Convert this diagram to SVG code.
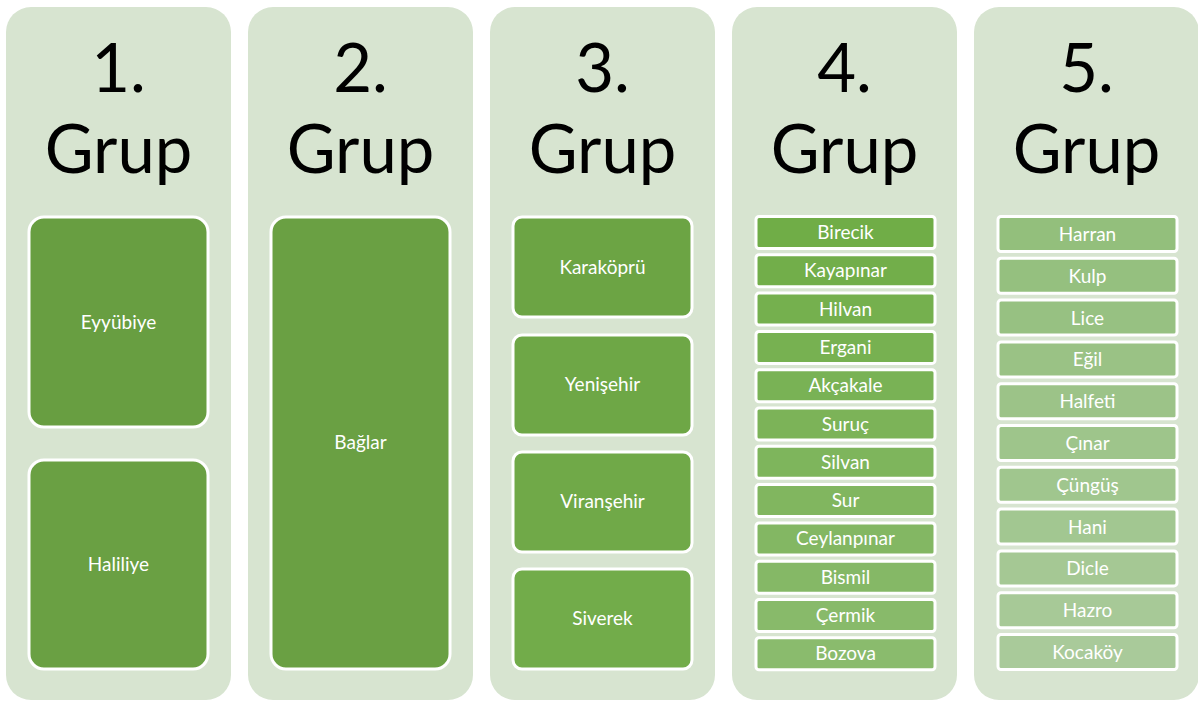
<svg xmlns="http://www.w3.org/2000/svg" width="1198" height="702" viewBox="0 0 1198 702">
<style>
.panel{fill:#D7E4D0}
.title{font-family:Lato,"Liberation Sans",sans-serif;font-size:67px;fill:#000;text-anchor:middle}
.node{stroke:#fff;stroke-width:3}
.lbl{font-family:Lato,"Liberation Sans",sans-serif;font-size:19px;fill:#fff;text-anchor:middle}
</style>
<rect x="0" y="0" width="1198" height="702" fill="#fff"/>
<g id="panel1">
<rect class="panel" x="6" y="7" width="225" height="693" rx="25"/>
<text class="title" x="118.5" y="92">1.</text>
<text class="title" x="118.5" y="173">Grup</text>
</g>
<g id="panel2">
<rect class="panel" x="248" y="7" width="225" height="693" rx="25"/>
<text class="title" x="360.5" y="92">2.</text>
<text class="title" x="360.5" y="173">Grup</text>
</g>
<g id="panel3">
<rect class="panel" x="490" y="7" width="225" height="693" rx="25"/>
<text class="title" x="602.5" y="92">3.</text>
<text class="title" x="602.5" y="173">Grup</text>
</g>
<g id="panel4">
<rect class="panel" x="732" y="7" width="225" height="693" rx="25"/>
<text class="title" x="844.5" y="92">4.</text>
<text class="title" x="844.5" y="173">Grup</text>
</g>
<g id="panel5">
<rect class="panel" x="974" y="7" width="225" height="693" rx="25"/>
<text class="title" x="1086.5" y="92">5.</text>
<text class="title" x="1086.5" y="173">Grup</text>
</g>
<g id="connectors"></g>
<g id="n-eyyubiye"><rect class="node" x="29" y="217" width="179" height="210" rx="15" fill="#689E41"/><text class="lbl" x="118.5" y="329">Eyyübiye</text></g>
<g id="n-haliliye"><rect class="node" x="29" y="460" width="179" height="209" rx="15" fill="#6AA043"/><text class="lbl" x="118.5" y="571">Haliliye</text></g>
<g id="n-baglar"><rect class="node" x="271" y="217" width="179" height="452" rx="15" fill="#6AA043"/><text class="lbl" x="360.5" y="449">Bağlar</text></g>
<g id="n-karakopru"><rect class="node" x="513" y="217" width="179" height="100" rx="9" fill="#6CA444"/><text class="lbl" x="602.5" y="274">Karaköprü</text></g>
<g id="n-yenisehir"><rect class="node" x="513" y="335" width="179" height="100" rx="9" fill="#6EA746"/><text class="lbl" x="602.5" y="391">Yenişehir</text></g>
<g id="n-viransehir"><rect class="node" x="513" y="452" width="179" height="100" rx="9" fill="#70A948"/><text class="lbl" x="602.5" y="508">Viranşehir</text></g>
<g id="n-siverek"><rect class="node" x="513" y="569" width="179" height="100" rx="9" fill="#72AC4A"/><text class="lbl" x="602.5" y="625">Siverek</text></g>
<g id="n-birecik"><rect class="node" x="756" y="216.5" width="179" height="32" rx="3" fill="#70AD47"/><text class="lbl" x="845.5" y="239">Birecik</text></g>
<g id="n-kayapinar"><rect class="node" x="756" y="254.8" width="179" height="32" rx="3" fill="#72AE4A"/><text class="lbl" x="845.5" y="277.3">Kayapınar</text></g>
<g id="n-hilvan"><rect class="node" x="756" y="293.1" width="179" height="32" rx="3" fill="#75B04E"/><text class="lbl" x="845.5" y="315.6">Hilvan</text></g>
<g id="n-ergani"><rect class="node" x="756" y="331.4" width="179" height="32" rx="3" fill="#77B151"/><text class="lbl" x="845.5" y="353.9">Ergani</text></g>
<g id="n-akcakale"><rect class="node" x="756" y="369.7" width="179" height="32" rx="3" fill="#79B255"/><text class="lbl" x="845.5" y="392.2">Akçakale</text></g>
<g id="n-suruc"><rect class="node" x="756" y="408" width="179" height="32" rx="3" fill="#7CB358"/><text class="lbl" x="845.5" y="430.5">Suruç</text></g>
<g id="n-silvan"><rect class="node" x="756" y="446.3" width="179" height="32" rx="3" fill="#7EB55C"/><text class="lbl" x="845.5" y="468.8">Silvan</text></g>
<g id="n-sur"><rect class="node" x="756" y="484.6" width="179" height="32" rx="3" fill="#81B65F"/><text class="lbl" x="845.5" y="507.1">Sur</text></g>
<g id="n-ceylanpinar"><rect class="node" x="756" y="522.9" width="179" height="32" rx="3" fill="#83B763"/><text class="lbl" x="845.5" y="545.4">Ceylanpınar</text></g>
<g id="n-bismil"><rect class="node" x="756" y="561.2" width="179" height="32" rx="3" fill="#85B866"/><text class="lbl" x="845.5" y="583.7">Bismil</text></g>
<g id="n-cermik"><rect class="node" x="756" y="599.5" width="179" height="32" rx="3" fill="#88BA6A"/><text class="lbl" x="845.5" y="622">Çermik</text></g>
<g id="n-bozova"><rect class="node" x="756" y="637.8" width="179" height="32" rx="3" fill="#8ABB6D"/><text class="lbl" x="845.5" y="660.3">Bozova</text></g>
<g id="n-harran"><rect class="node" x="998" y="216.5" width="179" height="35" rx="3" fill="#93BF7C"/><text class="lbl" x="1087.5" y="241">Harran</text></g>
<g id="n-kulp"><rect class="node" x="998" y="258.3" width="179" height="35" rx="3" fill="#95C07F"/><text class="lbl" x="1087.5" y="282.8">Kulp</text></g>
<g id="n-lice"><rect class="node" x="998" y="300.1" width="179" height="35" rx="3" fill="#97C182"/><text class="lbl" x="1087.5" y="324.6">Lice</text></g>
<g id="n-egil"><rect class="node" x="998" y="341.9" width="179" height="35" rx="3" fill="#9AC285"/><text class="lbl" x="1087.5" y="366.4">Eğil</text></g>
<g id="n-halfeti"><rect class="node" x="998" y="383.7" width="179" height="35" rx="3" fill="#9CC388"/><text class="lbl" x="1087.5" y="408.2">Halfeti</text></g>
<g id="n-cinar"><rect class="node" x="998" y="425.5" width="179" height="35" rx="3" fill="#9EC58B"/><text class="lbl" x="1087.5" y="450">Çınar</text></g>
<g id="n-cungus"><rect class="node" x="998" y="467.3" width="179" height="35" rx="3" fill="#A0C68E"/><text class="lbl" x="1087.5" y="491.8">Çüngüş</text></g>
<g id="n-hani"><rect class="node" x="998" y="509.1" width="179" height="35" rx="3" fill="#A2C791"/><text class="lbl" x="1087.5" y="533.6">Hani</text></g>
<g id="n-dicle"><rect class="node" x="998" y="550.9" width="179" height="35" rx="3" fill="#A5C894"/><text class="lbl" x="1087.5" y="575.4">Dicle</text></g>
<g id="n-hazro"><rect class="node" x="998" y="592.7" width="179" height="35" rx="3" fill="#A7C997"/><text class="lbl" x="1087.5" y="617.2">Hazro</text></g>
<g id="n-kocakoy"><rect class="node" x="998" y="634.5" width="179" height="35" rx="3" fill="#A9CA9A"/><text class="lbl" x="1087.5" y="659">Kocaköy</text></g>
</svg>
